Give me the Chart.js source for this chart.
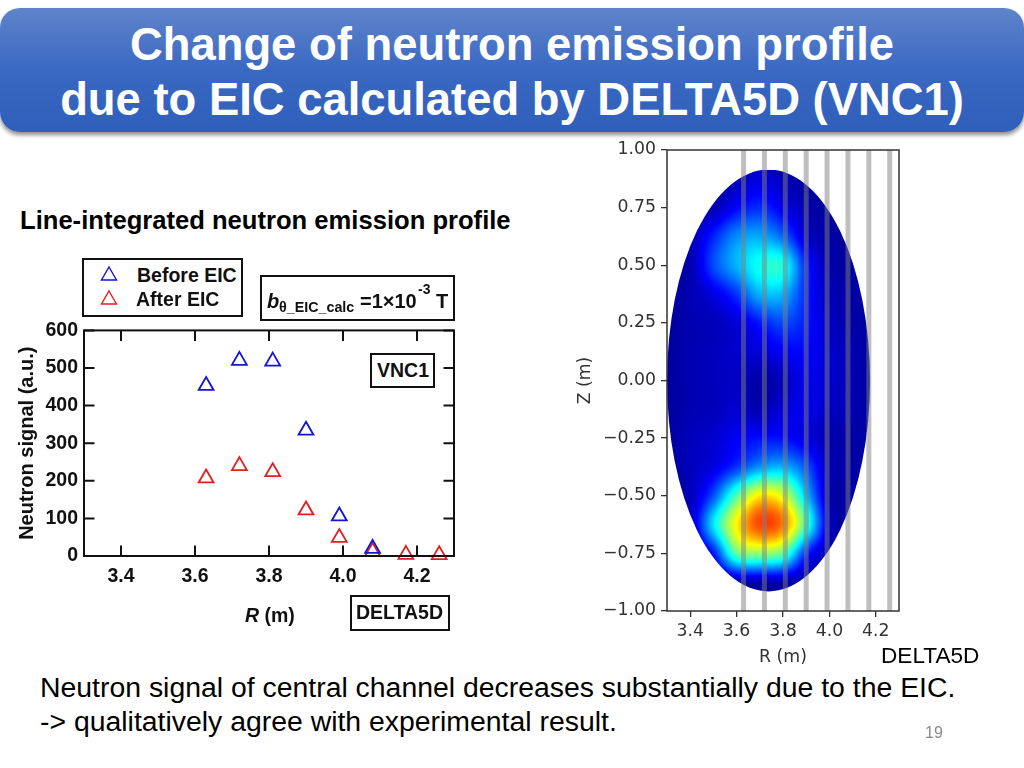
<!DOCTYPE html>
<html><head><meta charset="utf-8">
<script src="https://cdn.jsdelivr.net/npm/chart.js@4"></script>
<style>
html,body{margin:0;padding:0;background:#fff;width:1024px;height:768px;overflow:hidden}
body{position:relative;font-family:"Liberation Sans",Arial,sans-serif;color:#000}
#bar{position:absolute;left:0;top:8px;width:1024px;height:124px;border-radius:20px;
 background:linear-gradient(#5f84ca,#3a68c3 50%,#2e5fba);box-shadow:0 3px 4px rgba(0,0,0,.45)}
.t{position:absolute;white-space:nowrap;line-height:1}
.title{left:0;width:1024px;text-align:center;color:#fff;font-weight:bold;font-size:45.4px}
.box{position:absolute;border:2px solid #111;box-sizing:border-box;background:#fff}
.b20{font-weight:bold;font-size:19.5px;color:#111}
canvas{position:absolute;display:block}
</style></head><body>
<div id="bar"></div>
<div class="t title" style="top:22px">Change of neutron emission profile</div>
<div class="t title" style="top:77px">due to EIC calculated by DELTA5D (VNC1)</div>
<div class="t" style="left:20px;top:208px;font-weight:bold;font-size:25.6px">Line-integrated neutron emission profile</div>

<canvas id="left" width="470" height="300" style="left:0;top:320px"></canvas>
<canvas id="right" width="350" height="535" style="left:570px;top:135px"></canvas>

<div class="box" style="left:82px;top:258px;width:161px;height:59px"></div>
<svg style="position:absolute;left:100px;top:266px" width="20" height="42" id="legendMarks"></svg>
<div class="t b20" style="left:137px;top:266px">Before EIC</div>
<div class="t b20" style="left:136px;top:290px">After EIC</div>

<div class="box" style="left:260px;top:275px;width:195px;height:46px"></div>
<div class="t b20" style="left:267px;top:291px;font-style:italic;font-size:20px">b</div>
<div class="t" style="left:279px;top:300px;font-weight:bold;font-size:14.3px;color:#111">θ_EIC_calc</div>
<div class="t b20" style="left:360px;top:291px;font-size:20px">=1×10</div>
<div class="t" style="left:418px;top:282px;font-weight:bold;font-size:14px;color:#111">-3</div>
<div class="t b20" style="left:436px;top:291px;font-size:20px">T</div>

<div class="box" style="left:370px;top:353px;width:65px;height:35px"></div>
<div class="t b20" style="left:377px;top:361px">VNC1</div>
<div class="box" style="left:350px;top:595px;width:100px;height:36px"></div>
<div class="t b20" style="left:356px;top:603px">DELTA5D</div>
<div class="t b20" style="left:245px;top:606px"><i>R</i> (m)</div>

<div class="t" style="left:881px;top:645px;font-size:22.6px">DELTA5D</div>
<div class="t" style="left:40px;top:673px;font-size:28.4px">Neutron signal of central channel decreases substantially due to the EIC.</div>
<div class="t" style="left:40px;top:707px;font-size:28.4px">-&gt; qualitatively agree with experimental result.</div>
<div class="t" style="left:925px;top:725px;font-size:16px;color:#8a8a8a">19</div>

<script>
// ---- left chart data
const beforeLabel = "Before EIC";
const afterLabel = "After EIC";
const beforeR = [3.63, 3.72, 3.81, 3.90, 3.99, 4.08];
const beforeSignal = [453, 520, 518, 334, 106, 20];
const afterR = [3.63, 3.72, 3.81, 3.90, 3.99, 4.08, 4.17, 4.26];
const afterSignal = [207, 240, 224, 122, 49, 12, 4, 3];
const leftXTicks = [3.4, 3.6, 3.8, 4.0, 4.2];
const leftYTicks = [0, 100, 200, 300, 400, 500, 600];
// ---- right chart data
const rightXTicks = [3.4, 3.6, 3.8, 4.0, 4.2];
const rightYTicks = [-1, -0.75, -0.5, -0.25, 0, 0.25, 0.5, 0.75, 1];
const channelR = [3.63, 3.72, 3.81, 3.90, 3.99, 4.08, 4.17, 4.26];
const plasmaR = [3.30, 4.175];
const plasmaZ = [-0.915, 0.915];
const heatR = [3.3, 3.4, 3.5, 3.6, 3.7, 3.8, 3.9, 4.0, 4.1, 4.2];
const heatZ = [1, .875, .75, .625, .5, .375, .25, .125, 0, -.125, -.25, -.375, -.5, -.625, -.75, -.875, -1];
const heatValues = [
 [0,  0,  0,  0,  0,  0,  0,  0,  0,0],
 [0,  0,  0,.03,.06,.03,  0,  0,  0,0],
 [0,.01,.02,.10,.14,.08,.02,  0,  0,0],
 [0,.02,.13,.24,.27,.20,.05,.01,  0,0],
 [0,.02,.17,.28,.37,.38,.13,.02,  0,0],
 [0,.02,.07,.15,.28,.28,.13,.03,.01,0],
 [0,.02,.03,.06,.12,.17,.12,.04,.01,0],
 [0,.02,.03,.05,.06,.09,.10,.05,.02,0],
 [0,.02,.03,.04,.01,.03,.08,.05,.02,0],
 [0,.02,.03,.05,.02,.06,.08,.04,.02,0],
 [0,.03,.05,.09,.11,.11,.07,.02,.01,0],
 [0,.03,.07,.15,.25,.28,.18,.03,.01,0],
 [0,.03,.18,.44,.63,.58,.30,.03,.01,0],
 [0,.03,.33,.62,.80,.74,.42,.05,.01,0],
 [0,.01,.12,.45,.50,.45,.14,.02,  0,0],
 [0,  0,.01,.02,.02,.02,.01,  0,  0,0],
 [0,  0,  0,  0,  0,  0,  0,  0,  0,0]
];
const blue = "#1414d2", red = "#e01f1f";

// legend marks
(function(){
  const tri = (cy, c) => `<polygon points="9,${cy-7} 16.5,${cy+6} 1.5,${cy+6}" fill="none" stroke="${c}" stroke-width="1.4"/>`;
  document.getElementById('legendMarks').innerHTML = tri(8, blue) + tri(32, red);
})();

const setTicks = arr => ax => { ax.ticks = arr.map(v => ({value: v})); };
const pts = (xs, ys) => xs.map((x, i) => ({x, y: ys[i]}));
const noPad = a => { a.paddingTop = 0; a.paddingBottom = 0; a.paddingLeft = 0; a.paddingRight = 0; };

// frame + inward ticks for the left chart
const frameIn = {
  id: 'frameIn',
  afterDatasetsDraw(c) {
    const {ctx, chartArea: a, scales: {x, y}} = c, L = 10.5;
    ctx.save();
    ctx.strokeStyle = '#111'; ctx.lineWidth = 2;
    ctx.strokeRect(a.left, a.top, a.right - a.left, a.bottom - a.top);
    ctx.beginPath();
    x.ticks.forEach(t => { const p = x.getPixelForValue(t.value);
      ctx.moveTo(p, a.bottom); ctx.lineTo(p, a.bottom - L);
      ctx.moveTo(p, a.top); ctx.lineTo(p, a.top + L); });
    y.ticks.forEach(t => { const p = y.getPixelForValue(t.value);
      ctx.moveTo(a.left, p); ctx.lineTo(a.left + L, p);
      ctx.moveTo(a.right, p); ctx.lineTo(a.right - L, p); });
    ctx.stroke(); ctx.restore();
  }
};

new Chart(document.getElementById('left'), {
  type: 'scatter',
  data: { datasets: [
    {label: beforeLabel, data: pts(beforeR, beforeSignal), pointStyle: 'triangle', pointRadius: 8.6,
     pointBorderColor: blue, pointBackgroundColor: 'transparent', pointBorderWidth: 1.8, clip: false},
    {label: afterLabel, data: pts(afterR, afterSignal), pointStyle: 'triangle', pointRadius: 8.6,
     pointBorderColor: red, pointBackgroundColor: 'transparent', pointBorderWidth: 1.8, clip: false}
  ]},
  options: {
    responsive: false, animation: false, devicePixelRatio: 1,
    layout: {padding: {left: 0, top: 8, right: 16, bottom: 0}},
    plugins: {legend: {display: false}, tooltip: {enabled: false}},
    scales: {
      x: {type: 'linear', min: 3.3, max: 4.3, afterBuildTicks: setTicks(leftXTicks),
          afterFit: a => { a.height = 64; noPad(a); },
          grid: {display: false, drawTicks: false, tickLength: 0}, border: {display: false},
          ticks: {color: '#111', padding: 9, maxRotation: 0, autoSkip: false,
                  font: {family: 'Liberation Sans', weight: 'bold', size: 19.5}, callback: v => v.toFixed(1)}},
      y: {min: 0, max: 600, afterBuildTicks: setTicks(leftYTicks),
          afterFit: a => { a.width = 84; noPad(a); },
          grid: {display: false, drawTicks: false, tickLength: 0}, border: {display: false},
          title: {display: true, text: 'Neutron signal (a.u.)', color: '#111', padding: {top: 15, bottom: 15},
                  font: {family: 'Liberation Sans', weight: 'bold', size: 20}},
          ticks: {color: '#111', padding: 6, autoSkip: false,
                  font: {family: 'Liberation Sans', weight: 'bold', size: 19.5}}}
    }
  },
  plugins: [frameIn]
});

// jet colormap and smooth sampling of the read-off grid
function jet(v) {
  const c = t => Math.max(0, Math.min(1, t));
  return [c(Math.min(4 * v - 1.5, -4 * v + 4.5)), c(Math.min(4 * v - 0.5, -4 * v + 3.5)), c(Math.min(4 * v + 0.5, -4 * v + 2.5))].map(u => Math.round(u * 255));
}
function cr(a, b, c, d, t) {
  return b + 0.5 * t * (c - a + t * (2 * a - 5 * b + 4 * c - d + t * (3 * (b - c) + d - a)));
}
function sample(R, Z) {
  const fx = (R - heatR[0]) / (heatR[1] - heatR[0]), fy = (heatZ[0] - Z) / (heatZ[0] - heatZ[1]);
  const i = Math.floor(fx), j = Math.floor(fy), tx = fx - i, ty = fy - j;
  const g = (r, q) => heatValues[Math.max(0, Math.min(heatZ.length - 1, r))][Math.max(0, Math.min(heatR.length - 1, q))];
  const rows = [-1, 0, 1, 2].map(dr => cr(g(j + dr, i - 1), g(j + dr, i), g(j + dr, i + 1), g(j + dr, i + 2), tx));
  return Math.max(0, Math.min(1, cr(rows[0], rows[1], rows[2], rows[3], ty)));
}
const heatmap = {
  id: 'heatmap',
  beforeDatasetsDraw(c) {
    const {ctx, scales: {x, y}} = c;
    const x0 = x.getPixelForValue(plasmaR[0]), x1 = x.getPixelForValue(plasmaR[1]);
    const y0 = y.getPixelForValue(plasmaZ[1]), y1 = y.getPixelForValue(plasmaZ[0]);
    const w = Math.ceil(x1 - x0), h = Math.ceil(y1 - y0);
    const off = document.createElement('canvas'); off.width = w; off.height = h;
    const oc = off.getContext('2d'), im = oc.createImageData(w, h);
    for (let py = 0; py < h; py++) for (let px = 0; px < w; px++) {
      const col = jet(0.03 + 0.97 * sample(x.getValueForPixel(x0 + px + .5), y.getValueForPixel(y0 + py + .5)));
      const k = (py * w + px) * 4;
      im.data[k] = col[0]; im.data[k + 1] = col[1]; im.data[k + 2] = col[2]; im.data[k + 3] = 255;
    }
    oc.putImageData(im, 0, 0);
    ctx.save();
    ctx.beginPath();
    ctx.ellipse((x0 + x1) / 2, (y0 + y1) / 2, (x1 - x0) / 2, (y1 - y0) / 2, 0, 0, 2 * Math.PI);
    ctx.clip();
    ctx.drawImage(off, x0, y0);
    ctx.restore();
  },
  afterDatasetsDraw(c) {
    const {ctx, chartArea: a} = c;
    ctx.save(); ctx.strokeStyle = '#333'; ctx.lineWidth = 1.5;
    ctx.strokeRect(a.left, a.top, a.right - a.left, a.bottom - a.top);
    ctx.restore();
  }
};
const mpl = {family: 'DejaVu Sans', size: 17.3};
new Chart(document.getElementById('right'), {
  type: 'scatter',
  data: { datasets: channelR.map(r => ({
    label: 'R=' + r, data: pts([r, r], [-1, 1]), showLine: true, pointRadius: 0,
    borderColor: 'rgba(128,128,128,0.5)', borderWidth: 5, borderCapStyle: 'butt'
  }))},
  options: {
    responsive: false, animation: false, devicePixelRatio: 1,
    layout: {padding: {left: 0, top: 15, right: 21, bottom: 0}},
    plugins: {legend: {display: false}, tooltip: {enabled: false}},
    scales: {
      x: {type: 'linear', min: 3.3, max: 4.3, afterBuildTicks: setTicks(rightXTicks),
          afterFit: a => { a.height = 59; noPad(a); },
          grid: {display: true, drawOnChartArea: false, drawTicks: true, tickLength: 6, color: '#333', lineWidth: 1.3}, border: {display: false},
          title: {display: true, text: 'R (m)', color: '#333', padding: {top: 0, bottom: 2}, font: mpl},
          ticks: {color: '#333', padding: 4, maxRotation: 0, autoSkip: false, font: mpl, callback: v => v.toFixed(1)}},
      y: {min: -1, max: 1, afterBuildTicks: setTicks(rightYTicks),
          afterFit: a => { a.width = 97; noPad(a); },
          grid: {display: true, drawOnChartArea: false, drawTicks: true, tickLength: 6, color: '#333', lineWidth: 1.3}, border: {display: false},
          title: {display: true, text: 'Z (m)', color: '#333', padding: {top: 5, bottom: 0}, font: mpl},
          ticks: {color: '#333', padding: 5, autoSkip: false, font: mpl,
                  callback: v => (v < 0 ? '\u2212' : '') + Math.abs(v).toFixed(2)}}
    }
  },
  plugins: [heatmap]
});
</script>
</body></html>
